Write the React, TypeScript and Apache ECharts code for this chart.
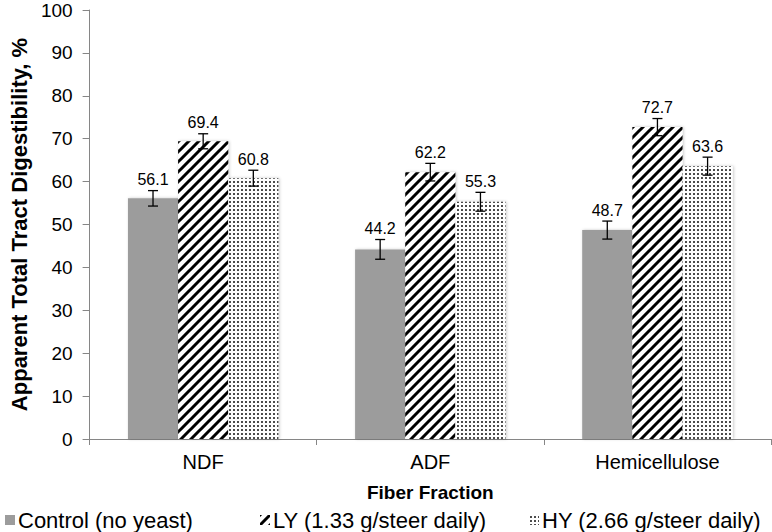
import React, { useEffect, useRef } from "react";
import * as echarts from "echarts";

const categories = ["NDF", "ADF", "Hemicellulose"];
const seriesNames = ["Control (no yeast)", "LY (1.33 g/steer daily)", "HY (2.66 g/steer daily)"];
const controlValues = [56.1, 44.2, 48.7];
const lyValues = [69.4, 62.2, 72.7];
const hyValues = [60.8, 55.3, 63.6];
const controlErr = [1.8, 2.3, 2.1];
const lyErr = [1.75, 2.05, 2.0];
const hyErr = [1.85, 2.2, 2.1];
const yTicks = { min: 0, max: 100, interval: 10 };

const FONT = "'Liberation Sans', Arial, sans-serif";

function stripePattern() {
  const c = document.createElement("canvas");
  c.width = 10;
  c.height = 10;
  const ctx = c.getContext("2d")!;
  ctx.fillStyle = "#fff";
  ctx.fillRect(0, 0, 10, 10);
  ctx.strokeStyle = "#000";
  ctx.lineWidth = 3;
  ctx.beginPath();
  ctx.moveTo(-2, 12);
  ctx.lineTo(12, -2);
  ctx.moveTo(-2, 2);
  ctx.lineTo(2, -2);
  ctx.moveTo(8, 12);
  ctx.lineTo(12, 8);
  ctx.stroke();
  return { image: c, repeat: "repeat", imageWidth: 10, imageHeight: 10 } as any;
}

function dotPattern() {
  const c = document.createElement("canvas");
  c.width = 4;
  c.height = 4;
  const ctx = c.getContext("2d")!;
  ctx.fillStyle = "#fff";
  ctx.fillRect(0, 0, 4, 4);
  ctx.fillStyle = "#000";
  ctx.beginPath();
  ctx.arc(2, 2, 0.95, 0, Math.PI * 2);
  ctx.fill();
  return { image: c, repeat: "repeat", imageWidth: 4, imageHeight: 4 } as any;
}

export default function App() {
  const ref = useRef<HTMLDivElement>(null);
  useEffect(() => {
    if (!ref.current) return;
    const chart = echarts.init(ref.current, undefined, { renderer: "svg" });
    const BAR_FRAC = 0.2208;
    const values = [controlValues, lyValues, hyValues];
    const errs = [controlErr, lyErr, hyErr];
    const fills: any[] = ["#9c9c9c", stripePattern(), dotPattern()];

    const barSeries = values.map((vals, i) => ({
      type: "bar",
      name: seriesNames[i],
      data: vals,
      barWidth: "22.08%",
      barGap: "0%",
      itemStyle: {
        color: fills[i],
        shadowBlur: 3,
        shadowColor: "rgba(0,0,0,0.22)",
        shadowOffsetX: 1,
        shadowOffsetY: 0,
      },
      z: 2,
    }));

    const errSeries = values.map((vals, i) => ({
      type: "custom",
      name: "err" + i,
      z: 5,
      data: vals.map((v, ci) => [ci, v, errs[i][ci]]),
      renderItem: (params: any, api: any) => {
        const ci = api.value(0);
        const v = api.value(1);
        const e = api.value(2);
        const band = api.size([1, 0])[0];
        const top = api.coord([ci, v + e]);
        const bot = api.coord([ci, v - e]);
        const x = top[0] + (i - 1) * band * BAR_FRAC;
        const cap = 5;
        const st = { stroke: "#000", lineWidth: 1.3 };
        return {
          type: "group",
          children: [
            { type: "line", shape: { x1: x, y1: top[1], x2: x, y2: bot[1] }, style: st },
            { type: "line", shape: { x1: x - cap, y1: top[1], x2: x + cap, y2: top[1] }, style: st },
            { type: "line", shape: { x1: x - cap, y1: bot[1], x2: x + cap, y2: bot[1] }, style: st },
            {
              type: "text",
              x: x,
              y: top[1] - 3,
              style: {
                text: v.toFixed(1),
                fontSize: 16,
                fontFamily: FONT,
                fill: "#000",
                align: "center",
                verticalAlign: "bottom",
              },
            },
          ],
        };
      },
    }));

    const legendLefts = [0, 255, 524];

    chart.setOption({
      animation: false,
      textStyle: { fontFamily: FONT },
      grid: { left: 79, right: 1, top: 10, bottom: 93, containLabel: false },
      legend: seriesNames.map((n, i) => ({
        data: [n],
        left: legendLefts[i],
        top: 504,
        itemWidth: 10,
        itemHeight: 10,
        itemGap: 4,
        icon: "rect",
        textStyle: { fontSize: 22, fontFamily: FONT, color: "#000", padding: [0, 0, 0, -2] },
        selectedMode: false,
      })),
      xAxis: {
        type: "category",
        data: categories,
        name: "Fiber Fraction",
        nameLocation: "middle",
        nameGap: 44,
        nameTextStyle: { fontSize: 19, fontWeight: "bold", color: "#000", fontFamily: FONT },
        axisLine: { show: true, lineStyle: { color: "#868686", width: 1 } },
        axisTick: { show: true, length: 6, lineStyle: { color: "#868686" } },
        axisLabel: { fontSize: 20, color: "#000", margin: 13, fontFamily: FONT },
      },
      yAxis: {
        type: "value",
        min: yTicks.min,
        max: yTicks.max,
        interval: yTicks.interval,
        name: "Apparent Total Tract Digestibility, %",
        nameLocation: "middle",
        nameGap: 58,
        nameTextStyle: { fontSize: 22, fontWeight: "bold", color: "#000", fontFamily: FONT },
        splitLine: { show: false },
        axisLine: { show: true, lineStyle: { color: "#868686", width: 1 } },
        axisTick: { show: true, length: 7, lineStyle: { color: "#868686" } },
        axisLabel: { fontSize: 19, color: "#000", margin: 17, fontFamily: FONT },
      },
      series: [...barSeries, ...errSeries],
    } as any);
    return () => chart.dispose();
  }, []);
  return <div ref={ref} style={{ width: 772, height: 532, position: "absolute", left: 0, top: 0 }} />;
}
